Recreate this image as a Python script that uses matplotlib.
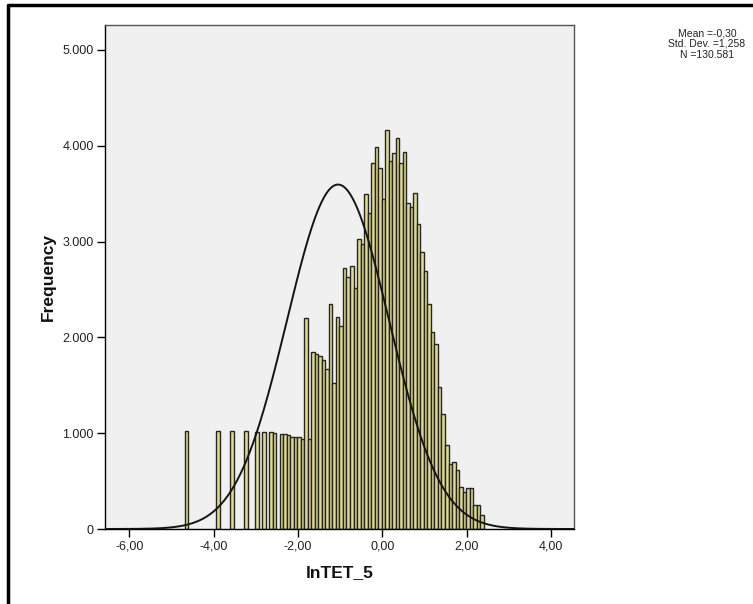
import numpy as np
import matplotlib
matplotlib.use("Agg")
import matplotlib.pyplot as plt
from matplotlib.lines import Line2D
from matplotlib.ticker import FuncFormatter, FixedLocator

plt.rcParams['font.family'] = ['Liberation Sans', 'DejaVu Sans']

# Histogram of lnTET_5: equal-width bins starting at bin_start
bin_start = -4.69
bin_width = 0.0835
counts = [
    1023, 0, 0, 0, 0, 0, 0, 0, 0, 1020,
    0, 0, 0, 1020, 0, 0, 0, 1020, 0, 0,
    1012, 0, 1012, 0, 1009, 1005, 0, 992, 988, 981,
    963, 960, 957, 943, 2200, 935, 1848, 1830, 1803, 1760,
    1672, 2350, 1521, 2213, 2119, 2727, 2627, 2745, 2510, 3030,
    2975, 3497, 3302, 3817, 3984, 3765, 3445, 4165, 3844, 3922,
    4085, 3824, 3939, 3406, 3358, 3511, 3184, 2895, 2696, 2349,
    2060, 1931, 1486, 1200, 877, 682, 703, 616, 438, 383,
    425, 425, 251, 251, 146,
]

# Summary statistics shown beside the chart
stat_lines = ["Mean =-0,30", "Std. Dev. =1,258", "N =130.581"]
n_total = 130581

# Normal curve overlay
curve_mean = -1.05
curve_sd = 1.21

x_ticks = [-6, -4, -2, 0, 2, 4]
y_ticks = [0, 1000, 2000, 3000, 4000, 5000]
x_range = (-6.58, 4.55)
y_range = (0, 5260)

W, H = 753, 604
fig = plt.figure(figsize=(W / 100, H / 100), dpi=100)
fig.patch.set_facecolor('white')
ax = fig.add_axes([105 / W, (H - 529) / H, (574 - 105) / W, (529 - 25) / H])
ax.set_facecolor('#F0F0F0')

counts_arr = np.array(counts, dtype=float)
lefts = bin_start + bin_width * np.arange(len(counts_arr))
mask = counts_arr > 0
ax.bar(lefts[mask], counts_arr[mask], width=bin_width, align='edge',
       color='#DDD89B', edgecolor='#26261A', linewidth=1.0, zorder=2)

xs = np.linspace(x_range[0], x_range[1], 600)
pdf = np.exp(-0.5 * ((xs - curve_mean) / curve_sd) ** 2) / (curve_sd * np.sqrt(2 * np.pi))
ax.plot(xs, n_total * bin_width * pdf, color='#151515', linewidth=1.4, zorder=3)

ax.set_xlim(*x_range)
ax.set_ylim(*y_range)
ax.xaxis.set_major_locator(FixedLocator(x_ticks))
ax.yaxis.set_major_locator(FixedLocator(y_ticks))
ax.xaxis.set_major_formatter(FuncFormatter(lambda v, p: f"{v:.2f}".replace('.', ',')))
ax.yaxis.set_major_formatter(FuncFormatter(lambda v, p: "0" if v == 0 else f"{v / 1000:.3f}"))
ax.tick_params(direction='out', length=6, width=1, color='black',
               labelsize=9, labelcolor='#222222', pad=2)

for side in ('left', 'bottom'):
    ax.spines[side].set_color('black')
    ax.spines[side].set_linewidth(1.0)
for side in ('top', 'right'):
    ax.spines[side].set_color('#555555')
    ax.spines[side].set_linewidth(1.0)

fig.text(48 / W, 1 - 277 / H, 'Frequency', rotation=90, ha='center', va='center',
         fontsize=12.5, fontweight='bold', color='#111111')
fig.text(339.5 / W, 1 - 573 / H, 'lnTET_5', ha='center', va='center',
         fontsize=12.5, fontweight='bold', color='#111111')

for i, line in enumerate(stat_lines):
    fig.text(707 / W, 1 - (33 + 11 * i) / H, line, ha='center', va='center',
             fontsize=7.5, color='#222222')

# Outer frame along the top and left edges
fig.add_artist(Line2D([8 / W, 8 / W], [0, 1 - 4 / H], transform=fig.transFigure,
                      color='black', linewidth=2.5, solid_capstyle='butt'))
fig.add_artist(Line2D([6.8 / W, 1], [1 - 5 / H, 1 - 5 / H], transform=fig.transFigure,
                      color='black', linewidth=2.5, solid_capstyle='butt'))

fig.savefig('out.png', dpi=100)
